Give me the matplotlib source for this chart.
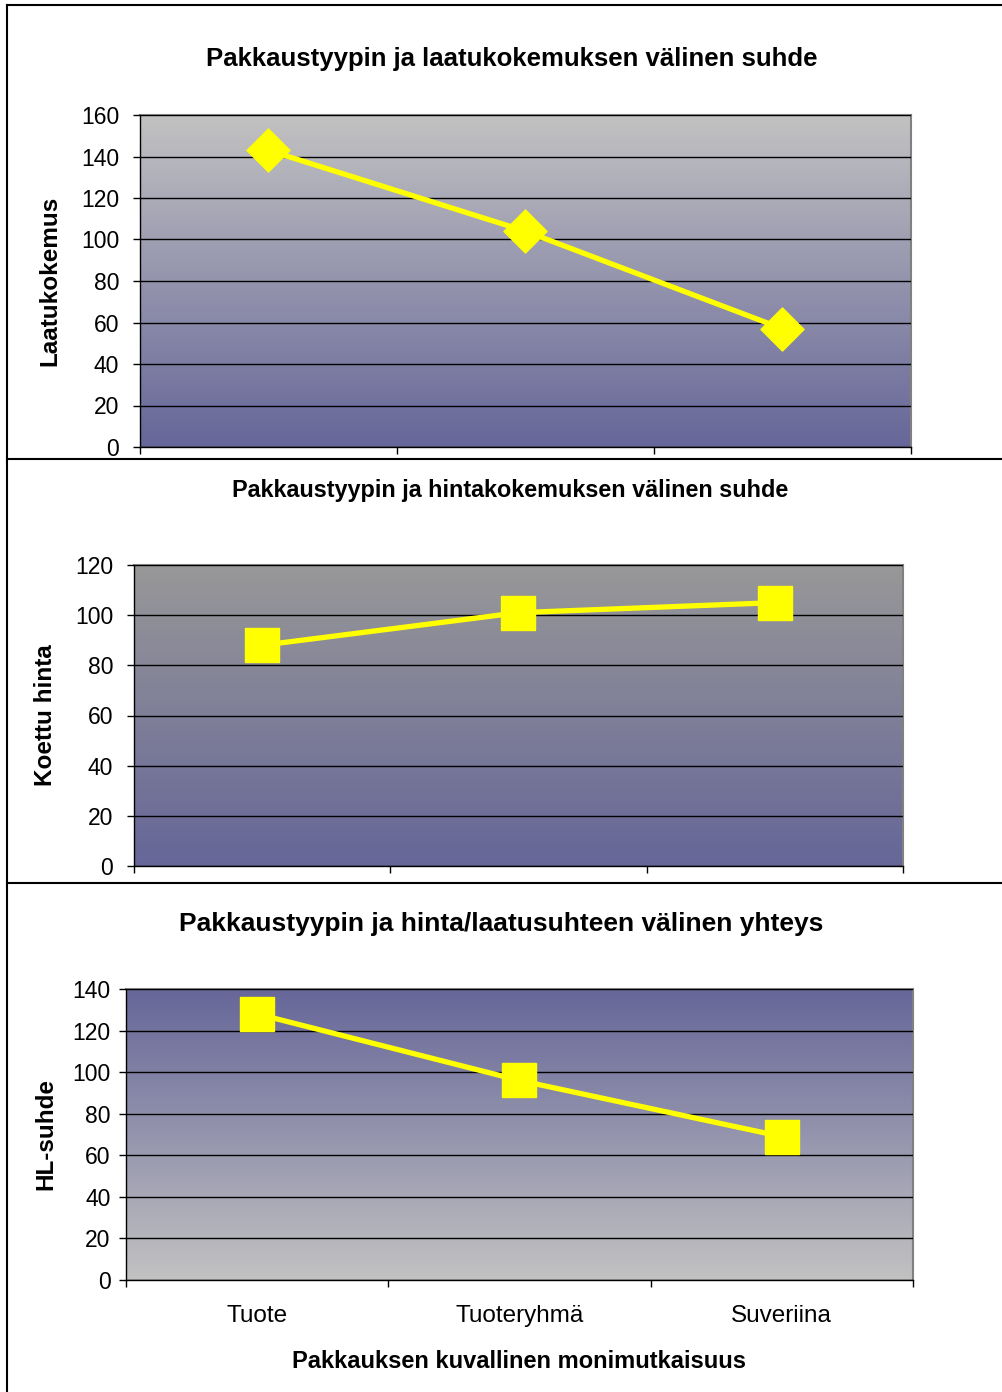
import numpy as np
import matplotlib
matplotlib.use("Agg")
import matplotlib.pyplot as plt
from matplotlib.path import Path
from matplotlib.lines import Line2D

plt.rcParams['font.family'] = ['Liberation Sans', 'DejaVu Sans']

categories = ["Tuote", "Tuoteryhmä", "Suveriina"]
quality = [143, 104, 57]
price = [88, 101, 105]
hl_ratio = [128, 96, 69]

titles = ["Pakkaustyypin ja laatukokemuksen välinen suhde",
          "Pakkaustyypin ja hintakokemuksen välinen suhde",
          "Pakkaustyypin ja hinta/laatusuhteen välinen yhteys"]
ylabels = ["Laatukokemus", "Koettu hinta", "HL-suhde"]
xlabel = "Pakkauksen kuvallinen monimutkaisuus"

W, H = 1003, 1392
fig = plt.figure(figsize=(W / 100, H / 100), dpi=100)

def px_axes(x0, y0, x1, y1):
    return fig.add_axes([x0 / W, 1 - y1 / H, (x1 - x0) / W, (y1 - y0) / H])

def fig_line(xs, ys, color='black', lw=1.5):
    fig.add_artist(Line2D([x / W for x in xs], [1 - y / H for y in ys],
                          transform=fig.transFigure, color=color, lw=lw))

# panel borders
fig_line([7, 7], [5, 1392])
fig_line([7, 1003], [5, 5])
fig_line([7, 1003], [459, 459])
fig_line([7, 1003], [883, 883])

diamond = Path([(0, 1), (1, 0), (0, -1), (-1, 0), (0, 1)],
               [Path.MOVETO, Path.LINETO, Path.LINETO, Path.LINETO, Path.CLOSEPOLY])

top_gray = np.array([194, 194, 194]) / 255
top_gray2 = np.array([152, 152, 152]) / 255
blue = np.array([102, 102, 153]) / 255

specs = [
    dict(box=(140, 115, 911, 447), data=quality, ymax=160, step=20,
         c_top=top_gray, c_bot=blue, marker=diamond, ms=31,
         title_x=512, title_y=59, title_fs=18.5, ylab_x=50, pad=10),
    dict(box=(134, 565, 903, 866), data=price, ymax=120, step=20,
         c_top=top_gray2, c_bot=blue, marker='s', ms=24.5,
         title_x=510, title_y=490, title_fs=16.8, ylab_x=46, pad=10),
    dict(box=(126, 989, 913, 1280), data=hl_ratio, ymax=140, step=20,
         c_top=blue, c_bot=top_gray, marker='s', ms=24.5,
         title_x=501, title_y=924, title_fs=19, ylab_x=46, pad=6),
]

x = np.arange(len(categories))
for i, s in enumerate(specs):
    x0, y0, x1, y1 = s['box']
    ax = px_axes(x0, y0, x1, y1)
    t = np.linspace(0, 1, 256)[:, None]
    grad = s['c_top'][None, :] * (1 - t[:, :, None]) + s['c_bot'][None, :] * t[:, :, None]
    ax.imshow(grad, extent=[0, 1, 0, 1], transform=ax.transAxes, aspect='auto', zorder=0)
    ax.set_xlim(-0.5, len(categories) - 0.5)
    ax.set_ylim(0, s['ymax'])
    ax.set_yticks(np.arange(0, s['ymax'] + 1, s['step']))
    ax.yaxis.grid(True, color='black', lw=1.0, zorder=1)
    ax.set_axisbelow(False)
    ax.plot(x, s['data'], color='#FFFF00', lw=3.8, marker=s['marker'],
            markersize=s['ms'], markerfacecolor='#FFFF00', markeredgecolor='#FFFF00',
            zorder=3, clip_on=False)
    ax.set_xticks(np.arange(len(categories) + 1) - 0.5, minor=False)
    ax.tick_params(axis='x', length=5, width=1, labelbottom=False, direction='out')
    ax.tick_params(axis='y', length=5, width=1, labelsize=16.5, direction='out',
                   pad=s['pad'])
    for sp in ['top', 'right']:
        ax.spines[sp].set_color('#808080')
        ax.spines[sp].set_linewidth(1.5)
    for sp in ['left', 'bottom']:
        ax.spines[sp].set_color('black')
        ax.spines[sp].set_linewidth(1.0)
    fig.text(s['title_x'] / W, 1 - s['title_y'] / H, titles[i],
             ha='center', va='center', fontsize=s['title_fs'], fontweight='bold')
    fig.text(s['ylab_x'] / W, 1 - ((y0 + y1) / 2) / H, ylabels[i], rotation=90,
             ha='center', va='center', fontsize=17.5, fontweight='bold')
    if i == 2:
        for j, c in enumerate(categories):
            ax.text(j, -0.124, c, transform=ax.get_xaxis_transform(),
                    ha='center', va='center', fontsize=17.5)
        fig.text(519 / W, 1 - 1362 / H, xlabel, ha='center', va='center',
                 fontsize=17, fontweight='bold')

fig.savefig("out.png", dpi=100)
